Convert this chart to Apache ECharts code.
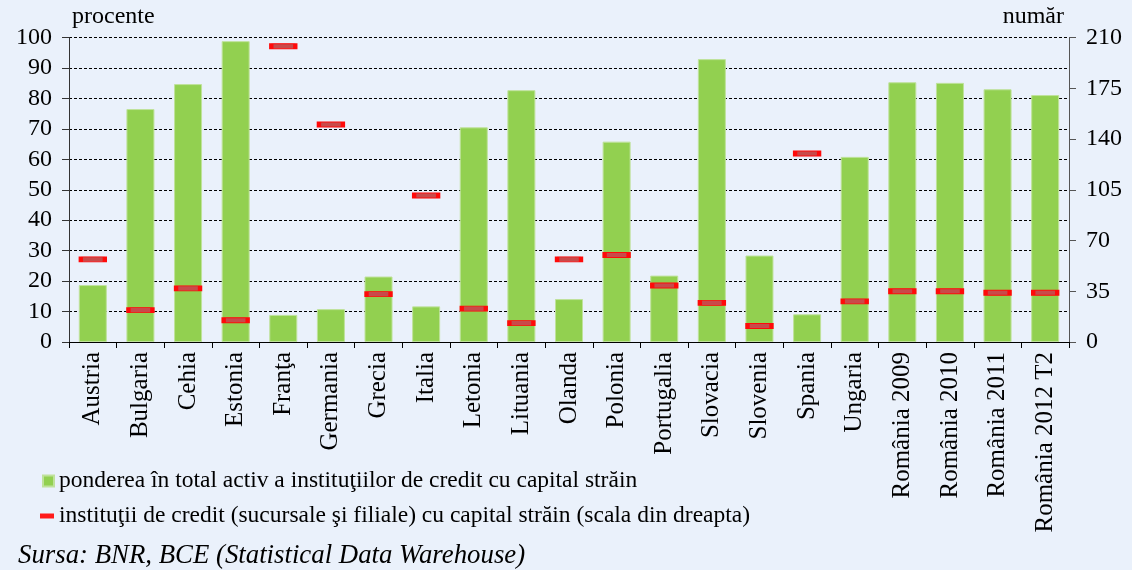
<!DOCTYPE html>
<html>
<head>
<meta charset="utf-8">
<script src="https://cdn.jsdelivr.net/npm/echarts@6/dist/echarts.min.js"></script>
<style>
  html, body { margin: 0; padding: 0; background: #eaf1fb; }
  #chart { width: 1132px; height: 570px; }
</style>
</head>
<body>
<div id="chart"></div>
<script>
const FONT = 'Liberation Serif'

const data = {
  categories: ['Austria', 'Bulgaria', 'Cehia', 'Estonia', 'Franţa', 'Germania', 'Grecia', 'Italia',
    'Letonia', 'Lituania', 'Olanda', 'Polonia', 'Portugalia', 'Slovacia', 'Slovenia', 'Spania',
    'Ungaria', 'România 2009', 'România 2010', 'România 2011', 'România 2012 T2'],
  // procente
  pondere: [18.7, 76.5, 84.7, 98.8, 8.9, 10.8, 21.5, 11.7, 70.5, 82.7, 14.1, 65.8, 21.8, 92.9,
    28.4, 9.1, 60.8, 85.3, 85.1, 83.0, 81.1],
  // numar (scala din dreapta)
  institutii: [57, 22, 37, 15, 204, 150, 33, 101, 23, 13, 57, 60, 39, 27, 11, 130, 28, 35, 35, 34, 34]
}

const barName = 'ponderea în total activ a instituţiilor de credit cu capital străin'
const markName = 'instituţii de credit (sucursale şi filiale) cu capital străin (scala din dreapta)'

const chart = echarts.init(document.getElementById('chart'))

chart.setOption({
  backgroundColor: '#eaf1fb',
  animation: false,
  textStyle: { fontFamily: FONT, color: '#000' },
  grid: {
    left: 69,
    right: 63,
    top: 37.5,
    bottom: 228
  },
  legend: [
    {
      data: [barName],
      left: 37,
      top: 464,
      icon: 'rect',
      itemWidth: 11,
      itemHeight: 11,
      textStyle: { fontFamily: FONT, fontSize: 23.5, color: '#000' }
    },
    {
      data: [markName],
      left: 35,
      top: 499,
      icon: 'rect',
      itemWidth: 14,
      itemHeight: 5,
      itemStyle: { color: '#ff1a1a', borderWidth: 0 },
      textStyle: { fontFamily: FONT, fontSize: 23.5, color: '#000' }
    }
  ],
  graphic: [
    {
      type: 'text',
      left: 72,
      top: 5,
      style: { text: 'procente', font: '24px "Liberation Serif"', fill: '#000' }
    },
    {
      type: 'text',
      right: 68,
      top: 5,
      style: { text: 'număr', font: '24px "Liberation Serif"', fill: '#000' }
    },
    {
      type: 'text',
      left: 18,
      top: 542,
      style: {
        text: 'Sursa: BNR, BCE (Statistical Data Warehouse)',
        font: 'italic 26.8px "Liberation Serif"',
        fill: '#000'
      }
    }
  ],
  xAxis: {
    type: 'category',
    data: data.categories,
    boundaryGap: true,
    axisLine: { lineStyle: { color: '#000', width: 1 } },
    axisTick: { show: true, length: 6, lineStyle: { color: '#000' } },
    axisLabel: {
      rotate: 90,
      interval: 0,
      margin: 10,
      fontFamily: FONT,
      fontSize: 25,
      color: '#000'
    }
  },
  yAxis: [
    {
      type: 'value',
      min: 0,
      max: 100,
      interval: 10,
      axisLine: { show: true, lineStyle: { color: '#333' } },
      axisTick: { show: true, length: 7, lineStyle: { color: '#333' } },
      axisLabel: { fontFamily: FONT, fontSize: 24, color: '#000', margin: 17 },
      splitLine: {
        show: true,
        lineStyle: { color: '#000', type: [3, 2], width: 1 }
      }
    },
    {
      type: 'value',
      min: 0,
      max: 210,
      interval: 35,
      position: 'right',
      axisLine: { show: true, lineStyle: { color: '#555' } },
      axisTick: { show: true, length: 7, lineStyle: { color: '#555' } },
      axisLabel: { fontFamily: FONT, fontSize: 24, color: '#000', margin: 17 },
      splitLine: { show: false }
    }
  ],
  series: [
    {
      name: barName,
      type: 'bar',
      yAxisIndex: 0,
      barWidth: 28,
      data: data.pondere,
      itemStyle: {
        color: '#92d050',
        borderColor: '#bfe29b',
        borderWidth: 1
      }
    },
    {
      name: markName,
      type: 'scatter',
      yAxisIndex: 1,
      symbol: 'rect',
      symbolSize: [24, 5],
      data: data.institutii,
      z: 5,
      itemStyle: {
        color: '#c94a4a',
        borderColor: '#ff0a0a',
        borderWidth: 2,
        opacity: 1
      }
    }
  ]
})
</script>
</body>
</html>
